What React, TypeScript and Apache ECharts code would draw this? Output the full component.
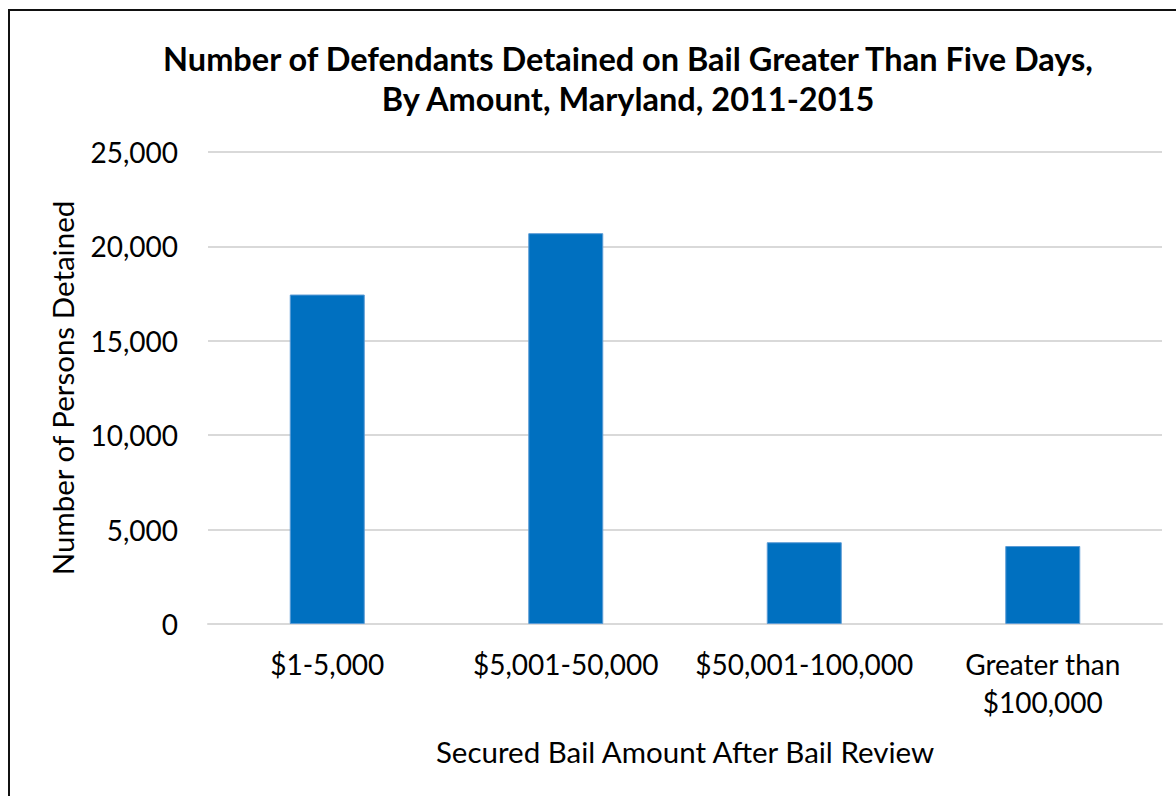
import React, { useEffect, useRef } from "react";
import * as echarts from "echarts";

const titleLines = [
  "Number of Defendants Detained on Bail Greater Than Five Days,",
  "By Amount, Maryland, 2011-2015",
];
const categories = ["$1-5,000", "$5,001-50,000", "$50,001-100,000", "Greater than\n$100,000"];
const detained = [17450, 20700, 4330, 4130];
const yAxisTitle = "Number of Persons Detained";
const xAxisTitle = "Secured Bail Amount After Bail Review";

const FONT = "Lato, 'Open Sans', sans-serif";

export default function App() {
  const ref = useRef<HTMLDivElement>(null);
  useEffect(() => {
    if (!ref.current) return;
    const chart = echarts.init(ref.current, undefined, { renderer: "svg" });
    chart.setOption({
      animation: false,
      backgroundColor: "#ffffff",
      title: {
        text: titleLines.join("\n"),
        left: 623,
        top: 33,
        textAlign: "center",
        textStyle: {
          fontFamily: FONT,
          fontWeight: "bold",
          fontSize: 32.5,
          lineHeight: 40,
          color: "#000",
        },
      },
      grid: { left: 208, right: 14, top: 152, bottom: 172 },
      xAxis: {
        type: "category",
        data: categories,
        name: xAxisTitle,
        nameLocation: "middle",
        nameGap: 112,
        nameTextStyle: { fontFamily: FONT, fontSize: 29.5, color: "#000" },
        axisLine: { lineStyle: { color: "#d9d9d9", width: 2 } },
        axisTick: { show: false },
        axisLabel: {
          fontFamily: FONT,
          fontSize: 28,
          color: "#000",
          lineHeight: 38,
          margin: 21,
          interval: 0,
        },
      },
      yAxis: {
        type: "value",
        min: 0,
        max: 25000,
        interval: 5000,
        name: yAxisTitle,
        nameLocation: "middle",
        nameGap: 131,
        nameRotate: 90,
        nameTextStyle: { fontFamily: FONT, fontSize: 29.5, color: "#000" },
        axisLine: { show: false },
        axisTick: { show: false },
        splitLine: { lineStyle: { color: "#d9d9d9", width: 2 } },
        axisLabel: {
          fontFamily: FONT,
          fontSize: 28,
          color: "#000",
          margin: 30,
          formatter: (v: number) => v.toLocaleString("en-US"),
        },
      },
      series: [
        {
          type: "bar",
          data: detained,
          barWidth: 75,
          itemStyle: { color: "#0070C0", borderColor: "#5b9bd5", borderWidth: 1 },
        },
      ],
    });
    return () => chart.dispose();
  }, []);
  return (
    <>
      <div
        ref={ref}
        style={{ position: "fixed", left: 0, top: 0, width: 1176, height: 796 }}
      />
      <div
        style={{
          position: "fixed",
          left: 8,
          top: 9,
          width: 1300,
          height: 1000,
          border: "2px solid #111",
          pointerEvents: "none",
        }}
      />
    </>
  );
}
